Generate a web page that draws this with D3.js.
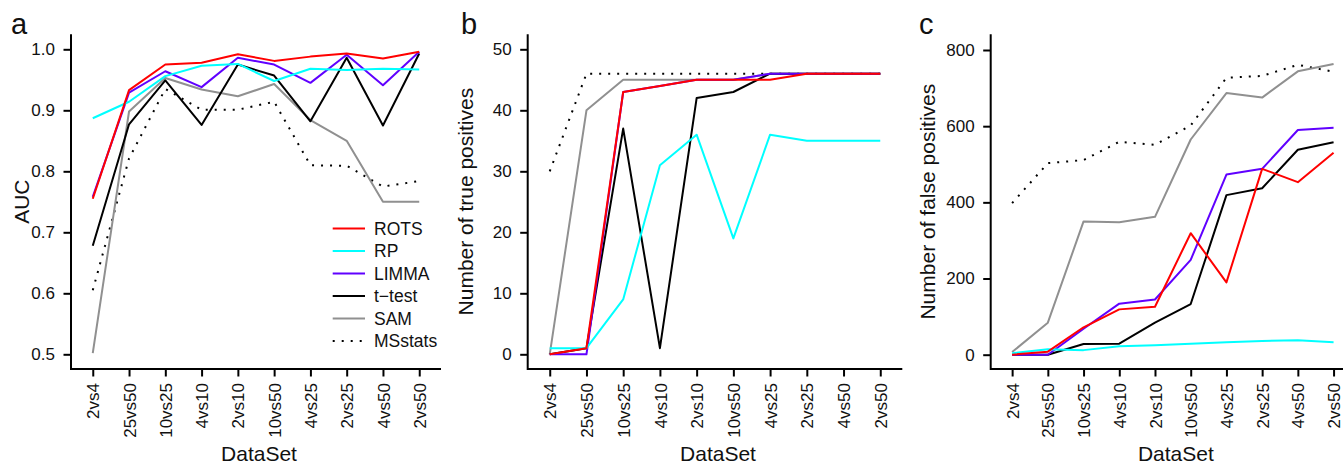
<!DOCTYPE html>
<html>
<head>
<meta charset="utf-8">
<script src="https://cdn.jsdelivr.net/npm/d3@7"></script>
<style>
  html, body { margin: 0; padding: 0; background: #ffffff; }
  svg { display: block; font-family: "Liberation Sans", Arial, Helvetica, sans-serif; }
</style>
</head>
<body>
<svg id="chart" width="1343" height="464"></svg>
<script>
// Datasets on the x axis, in plotting order
const categories = ["2vs4", "25vs50", "10vs25", "4vs10", "2vs10", "10vs50", "4vs25", "2vs25", "4vs50", "2vs50"];

// Method names as listed in the legend
const methods = ["ROTS", "RP", "LIMMA", "t\u2212test", "SAM", "MSstats"];

// Panel a: area under the ROC curve
const rotsAUC    = [0.755, 0.933, 0.975, 0.978, 0.992, 0.981, 0.988, 0.993, 0.985, 0.996];
const rpAUC      = [0.887, 0.914, 0.956, 0.973, 0.976, 0.948, 0.968, 0.966, 0.968, 0.967];
const limmaAUC   = [0.758, 0.929, 0.964, 0.938, 0.986, 0.975, 0.945, 0.991, 0.941, 0.996];
const ttestAUC   = [0.678, 0.877, 0.949, 0.876, 0.975, 0.957, 0.882, 0.986, 0.875, 0.993];
const samAUC     = [0.502, 0.898, 0.953, 0.934, 0.923, 0.943, 0.884, 0.850, 0.750, 0.750];
const msstatsAUC = [0.605, 0.821, 0.935, 0.901, 0.901, 0.914, 0.810, 0.809, 0.775, 0.784];

// Panel b: number of true positives
const rotsTP    = [0, 1, 43, 44, 45, 45, 45, 46, 46, 46];
const rpTP      = [1, 1, 9, 31, 36, 19, 36, 35, 35, 35];
const limmaTP   = [0, 0, 43, 44, 45, 45, 46, 46, 46, 46];
const ttestTP   = [0, 1, 37, 1, 42, 43, 46, 46, 46, 46];
const samTP     = [0, 40, 45, 45, 45, 45, 46, 46, 46, 46];
const msstatsTP = [30, 46, 46, 46, 46, 46, 46, 46, 46, 46];

// Panel c: number of false positives
const rotsFP    = [0, 8, 72, 119, 126, 319, 190, 488, 453, 530];
const rpFP      = [4, 14, 12, 22, 25, 29, 33, 36, 38, 33];
const limmaFP   = [0, 0, 68, 134, 145, 249, 473, 488, 590, 596];
const ttestFP   = [0, 0, 28, 29, 84, 133, 419, 437, 538, 558];
const samFP     = [7, 84, 350, 348, 362, 565, 687, 675, 744, 763];
const msstatsFP = [398, 503, 511, 559, 551, 602, 727, 732, 761, 743];

// Y axis tick values per panel
const aucTicks = [0.5, 0.6, 0.7, 0.8, 0.9, 1.0];
const tpTicks  = [0, 10, 20, 30, 40, 50];
const fpTicks  = [0, 200, 400, 600, 800];

const styles = {
  "ROTS":       { color: "#ff0000", dash: null },
  "RP":         { color: "#00ffff", dash: null },
  "LIMMA":      { color: "#6000ff", dash: null },
  "t\u2212test": { color: "#000000", dash: null },
  "SAM":        { color: "#909090", dash: null },
  "MSstats":    { color: "#000000", dash: "2 7" }
};

const textColor = "#111111";
const svg = d3.select("#chart");
const yTop = 34.3, yBottom = 369;

function panel(cfg) {
  const g = svg.append("g");
  const x = d3.scalePoint().domain(categories).range([cfg.left, cfg.right]).padding(0.6);
  const y = d3.scaleLinear().domain(cfg.domain).range([cfg.yMin, cfg.yMax]);

  // x axis
  const xa = g.append("g").attr("transform", `translate(0,${yBottom})`)
    .call(d3.axisBottom(x).tickSize(7.5).tickSizeOuter(0));
  xa.select(".domain").remove();
  xa.selectAll(".tick line").attr("stroke", "#000").attr("stroke-width", 2);
  xa.selectAll(".tick text")
    .attr("transform", "rotate(-90)")
    .attr("x", -14).attr("y", 0).attr("dy", "0.36em")
    .attr("text-anchor", "end")
    .attr("font-size", "17px").attr("fill", textColor)
    .style("font-family", "'Liberation Sans', Arial, sans-serif");

  // y axis
  const ya = g.append("g").attr("transform", `translate(${cfg.left},0)`)
    .call(d3.axisLeft(y).tickValues(cfg.ticks).tickFormat(cfg.fmt).tickSize(7.5).tickPadding(8.5));
  ya.select(".domain").remove();
  ya.selectAll(".tick line").attr("stroke", "#000").attr("stroke-width", 2);
  ya.selectAll(".tick text")
    .attr("font-size", "17px").attr("fill", textColor)
    .style("font-family", "'Liberation Sans', Arial, sans-serif");

  // L-shaped frame
  g.append("path")
    .attr("d", `M${cfg.left},${yTop}V${yBottom}H${cfg.right}`)
    .attr("fill", "none").attr("stroke", "#000").attr("stroke-width", 2);

  // series, drawn from the last legend entry to the first
  const line = d3.line().x((d, i) => x(categories[i])).y(d => y(d));
  cfg.series.slice().reverse().forEach(s => {
    const st = styles[s.name];
    g.append("path")
      .datum(s.values)
      .attr("d", line)
      .attr("fill", "none")
      .attr("stroke", st.color)
      .attr("stroke-width", 2)
      .attr("stroke-linejoin", "round")
      .attr("stroke-dasharray", st.dash);
  });

  // axis titles
  g.append("text")
    .attr("transform", `translate(${cfg.titleX},${(yTop + yBottom) / 2}) rotate(-90)`)
    .attr("text-anchor", "middle")
    .attr("font-size", "21px").attr("fill", textColor)
    .text(cfg.yTitle);
  g.append("text")
    .attr("x", (cfg.left + cfg.right) / 2 + 3).attr("y", 461)
    .attr("text-anchor", "middle")
    .attr("font-size", "21px").attr("fill", textColor)
    .text("DataSet");

  // panel letter
  g.append("text")
    .attr("x", cfg.letterX).attr("y", 33.5)
    .attr("font-size", "29px").attr("fill", textColor)
    .text(cfg.letter);

  return { g, x, y };
}

const pa = panel({
  left: 71, right: 441, domain: [0.5, 1.0], yMin: 354.3, yMax: 49.3,
  ticks: aucTicks, fmt: d3.format(".1f"), yTitle: "AUC", titleX: 28.5, letter: "a", letterX: 11,
  series: [
    { name: methods[0], values: rotsAUC },
    { name: methods[1], values: rpAUC },
    { name: methods[2], values: limmaAUC },
    { name: methods[3], values: ttestAUC },
    { name: methods[4], values: samAUC },
    { name: methods[5], values: msstatsAUC }
  ]
});

panel({
  left: 527.7, right: 902.3, domain: [0, 50], yMin: 354.3, yMax: 49.3,
  ticks: tpTicks, fmt: d3.format("d"), yTitle: "Number of true positives", titleX: 473, letter: "b", letterX: 461,
  series: [
    { name: methods[0], values: rotsTP },
    { name: methods[1], values: rpTP },
    { name: methods[2], values: limmaTP },
    { name: methods[3], values: ttestTP },
    { name: methods[4], values: samTP },
    { name: methods[5], values: msstatsTP }
  ]
});

panel({
  left: 990.7, right: 1355, domain: [0, 800], yMin: 354.7, yMax: 50,
  ticks: fpTicks, fmt: d3.format("d"), yTitle: "Number of false positives", titleX: 935, letter: "c", letterX: 919,
  series: [
    { name: methods[0], values: rotsFP },
    { name: methods[1], values: rpFP },
    { name: methods[2], values: limmaFP },
    { name: methods[3], values: ttestFP },
    { name: methods[4], values: samFP },
    { name: methods[5], values: msstatsFP }
  ]
});

// Legend inside panel a
const legend = pa.g.append("g");
methods.forEach((m, i) => {
  const st = styles[m];
  const yy = 228.5 + i * 22.5;
  legend.append("line")
    .attr("x1", 332.7).attr("x2", 365).attr("y1", yy).attr("y2", yy)
    .attr("stroke", st.color).attr("stroke-width", 2)
    .attr("stroke-dasharray", st.dash);
  legend.append("text")
    .attr("x", 374).attr("y", yy).attr("dy", "0.36em")
    .attr("font-size", "17.5px").attr("fill", textColor)
    .text(m);
});
</script>
</body>
</html>
